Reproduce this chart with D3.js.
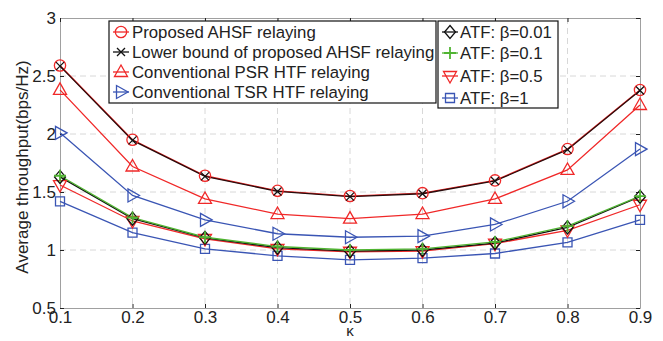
<!DOCTYPE html>
<html>
<head>
<meta charset="utf-8">
<script src="https://cdn.jsdelivr.net/npm/d3@7"></script>
<style>
  body { margin: 0; background: #fff; }
  svg { display: block; font-family: "Liberation Sans", Arial, Helvetica, sans-serif; }
</style>
</head>
<body>
<svg id="chart" width="663" height="341"></svg>
<script>
// data
var kappa = [0.1, 0.2, 0.3, 0.4, 0.5, 0.6, 0.7, 0.8, 0.9];
var proposed = [2.59, 1.95, 1.64, 1.51, 1.465, 1.49, 1.60, 1.87, 2.38];
var lowerBound = [2.585, 1.945, 1.635, 1.505, 1.46, 1.485, 1.595, 1.865, 2.375];
var psr = [2.38, 1.72, 1.44, 1.31, 1.27, 1.31, 1.44, 1.69, 2.25];
var tsr = [2.01, 1.47, 1.26, 1.14, 1.11, 1.12, 1.22, 1.42, 1.87];
var atf001 = [1.63, 1.27, 1.105, 1.02, 0.99, 1.0, 1.06, 1.195, 1.46];
var atf01 = [1.64, 1.28, 1.11, 1.03, 1.0, 1.01, 1.07, 1.205, 1.465];
var atf05 = [1.56, 1.25, 1.095, 1.01, 0.985, 0.99, 1.055, 1.17, 1.39];
var atf1 = [1.42, 1.15, 1.01, 0.95, 0.915, 0.93, 0.97, 1.065, 1.26];

var xTicks = [0.1, 0.2, 0.3, 0.4, 0.5, 0.6, 0.7, 0.8, 0.9];
var yTicks = [0.5, 1, 1.5, 2, 2.5, 3];

var red = "#f02828", blue = "#3a55b4", green = "#50b432", black = "#111";

var series = [
  { name: "ATF: \u03b2=1", values: atf1, color: blue, marker: "square" },
  { name: "ATF: \u03b2=0.5", values: atf05, color: red, marker: "down" },
  { name: "ATF: \u03b2=0.01", values: atf001, color: black, marker: "diamond" },
  { name: "ATF: \u03b2=0.1", values: atf01, color: green, marker: "plus" },
  { name: "Conventional TSR HTF relaying", values: tsr, color: blue, marker: "right" },
  { name: "Conventional PSR HTF relaying", values: psr, color: red, marker: "up" },
  { name: "Proposed AHSF relaying", values: proposed, color: red, marker: "circle" },
  { name: "Lower bound of proposed AHSF relaying", values: lowerBound, color: "#2a0c0c", marker: "cross" }
];
var legend1 = ["Proposed AHSF relaying", "Lower bound of proposed AHSF relaying",
  "Conventional PSR HTF relaying", "Conventional TSR HTF relaying"];
var legend2 = ["ATF: \u03b2=0.01", "ATF: \u03b2=0.1", "ATF: \u03b2=0.5", "ATF: \u03b2=1"];

var margin = {top: 18, right: 23, bottom: 33, left: 60};
var width = 663 - margin.left - margin.right;
var height = 341 - margin.top - margin.bottom;

var svg = d3.select("#chart");
var g = svg.append("g").attr("transform", "translate(" + margin.left + "," + margin.top + ")");

var x = d3.scaleLinear().domain([0.1, 0.9]).range([0, width]);
var y = d3.scaleLinear().domain([0.5, 3]).range([height, 0]);

// marker shapes
function markerPath(type) {
  switch (type) {
    case "circle": return d3.symbol(d3.symbolCircle, 100)();
    case "cross": return "M-4,-4L4,4M-4,4L4,-4";
    case "up": return "M0,-7L6.5,4.5L-6.5,4.5Z";
    case "down": return "M0,7L6.5,-4.5L-6.5,-4.5Z";
    case "right": return "M7,0L-4.5,6.5L-4.5,-6.5Z";
    case "diamond": return "M0,-6.5L5.5,0L0,6.5L-5.5,0Z";
    case "plus": return "M-6,0L6,0M0,-6L0,6";
    case "square": return "M-4.5,-4.5L4.5,-4.5L4.5,4.5L-4.5,4.5Z";
  }
}

// grid
g.append("g").selectAll("line").data(xTicks.slice(1, -1)).join("line")
  .attr("x1", d => x(d)).attr("x2", d => x(d)).attr("y1", 0).attr("y2", height)
  .attr("stroke", "#d8d8d8").attr("stroke-dasharray", "6,4");
g.append("g").selectAll("line").data(yTicks.slice(1, -1)).join("line")
  .attr("y1", d => y(d)).attr("y2", d => y(d)).attr("x1", 0).attr("x2", width)
  .attr("stroke", "#d8d8d8").attr("stroke-dasharray", "6,4");

// axes
var xAxis = g.append("g").attr("transform", "translate(0," + height + ")")
  .call(d3.axisBottom(x).tickValues(xTicks).tickFormat(d3.format(".1f")).tickSizeInner(-4).tickSizeOuter(0).tickPadding(3));
var yAxis = g.append("g")
  .call(d3.axisLeft(y).tickValues(yTicks).tickFormat(d => String(d)).tickSizeInner(-4).tickSizeOuter(0).tickPadding(4));
var xTop = g.append("g").call(d3.axisTop(x).tickValues(xTicks).tickFormat("").tickSizeInner(-4).tickSizeOuter(0));
var yRight = g.append("g").attr("transform", "translate(" + width + ",0)")
  .call(d3.axisRight(y).tickValues(yTicks).tickFormat("").tickSizeInner(-4).tickSizeOuter(0));
[xAxis, yAxis, xTop, yRight].forEach(a => {
  a.select(".domain").attr("stroke", "#a0a0a0");
  a.selectAll(".tick line").attr("stroke", "#222");
  a.selectAll(".tick text").attr("font-size", 17).attr("fill", "#222")
    .attr("font-family", "'Liberation Sans', Arial, sans-serif");
});

// lines and markers
var line = d3.line().x((d, i) => x(kappa[i])).y(d => y(d));
series.forEach(s => {
  g.append("path").datum(s.values).attr("d", line)
    .attr("fill", "none").attr("stroke", s.color).attr("stroke-width", 1.3);
});
series.forEach(s => {
  g.append("g").selectAll("path").data(s.values).join("path")
    .attr("transform", (d, i) => "translate(" + x(kappa[i]) + "," + y(d) + ")")
    .attr("d", markerPath(s.marker))
    .attr("fill", "none").attr("stroke", s.marker === "cross" ? "#111" : s.color)
    .attr("stroke-width", s.marker === "plus" ? 1.8 : 1.3);
});

// labels
svg.append("text").attr("x", margin.left + x(0.5)).attr("y", 336)
  .attr("text-anchor", "middle").attr("font-size", 15).attr("fill", "#222").text("\u03ba");
svg.append("text").attr("transform", "translate(28," + (margin.top + height / 2 + 4) + ") rotate(-90)")
  .attr("text-anchor", "middle").attr("font-size", 17).attr("fill", "#222")
  .text("Average throughput(bps/Hz)");

// legends
function drawLegend(names, x0, y0, w, h, rowY, iconX, textX) {
  var lg = svg.append("g").attr("transform", "translate(" + x0 + "," + y0 + ")");
  lg.append("rect").attr("width", w).attr("height", h).attr("fill", "#fff")
    .attr("stroke", "#111").attr("stroke-width", 1.2);
  names.forEach((n, i) => {
    var s = series.find(d => d.name === n);
    var row = lg.append("g").attr("transform", "translate(0," + rowY[i] + ")");
    row.append("line").attr("x1", iconX - 8).attr("x2", iconX + 8)
      .attr("stroke", s.marker === "cross" ? "#111" : s.color).attr("stroke-width", 1.3);
    row.append("path").attr("transform", "translate(" + iconX + ",0)").attr("d", markerPath(s.marker))
      .attr("fill", "none").attr("stroke", s.marker === "cross" ? "#111" : s.color)
      .attr("stroke-width", s.marker === "plus" ? 1.8 : 1.3);
    row.append("text").attr("x", textX).attr("y", 6).attr("font-size", 16.8).attr("fill", "#222").text(n);
  });
}
drawLegend(legend1, 109, 21, 327, 82, [11, 31, 51, 71], 12, 23);
drawLegend(legend2, 438, 21, 120, 87, [11, 32, 55, 77], 12, 22);
</script>
</body>
</html>
